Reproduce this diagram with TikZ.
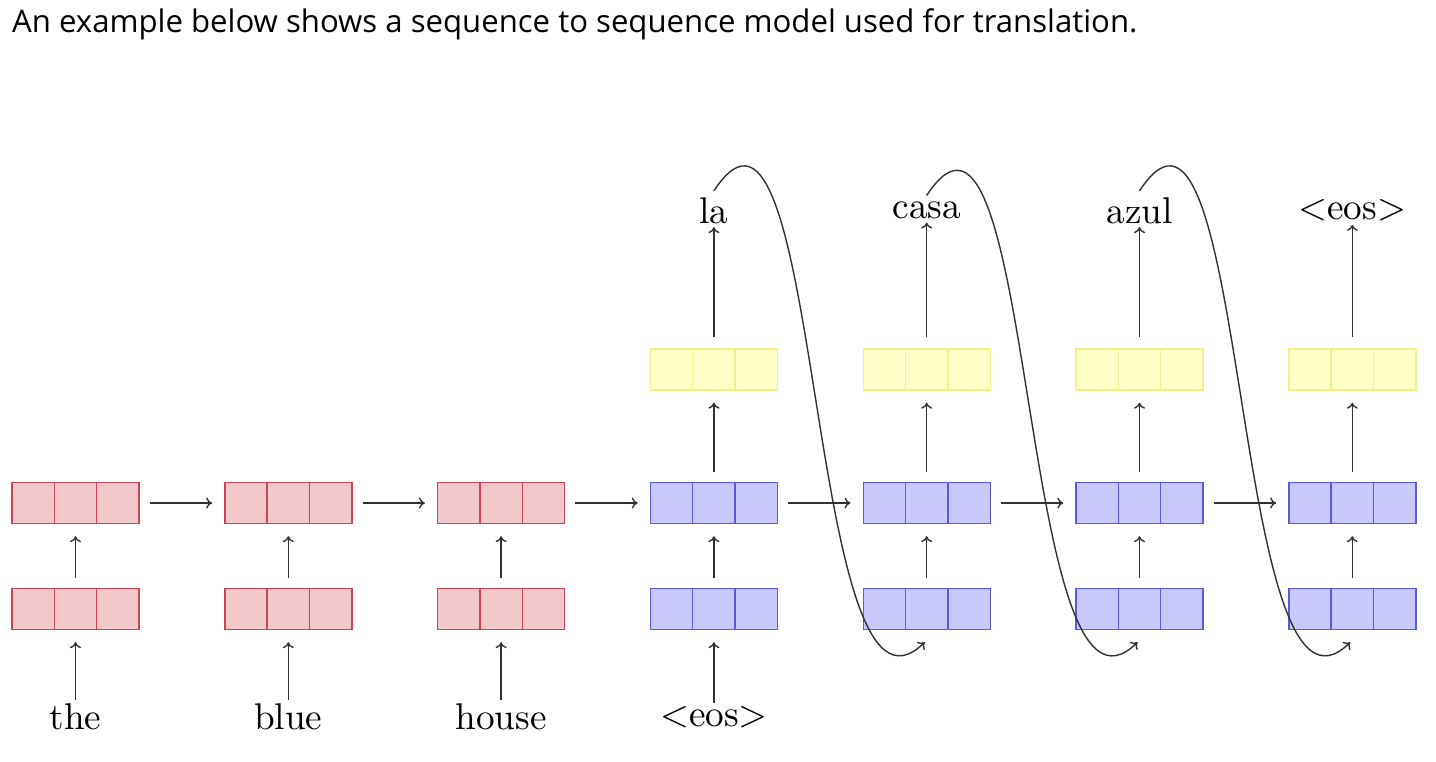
\documentclass[tikz,border=0pt]{standalone}
\usepackage{fontspec}
\newfontfamily\titlefont{Open Sans}
\newfontfamily\cmten{lmroman10-regular}[Extension=.otf]
\usetikzlibrary{calc,arrows.meta}
\definecolor{rfill}{RGB}{242,200,202}
\definecolor{rline}{RGB}{200,70,85}
\definecolor{bfill}{RGB}{200,200,250}
\definecolor{bline}{RGB}{90,90,225}
\definecolor{yfill}{RGB}{255,255,200}
\definecolor{yline}{RGB}{245,240,140}
\definecolor{arrcol}{RGB}{50,50,50}
\tikzset{
  cellbox/.style={rectangle, minimum width=127pt, minimum height=41pt, inner sep=0pt, line width=1.4pt,
    path picture={
      \draw[line width=1.4pt,#1]
        ($(path picture bounding box.south west)!1/3!(path picture bounding box.south east)$) --
        ($(path picture bounding box.north west)!1/3!(path picture bounding box.north east)$)
        ($(path picture bounding box.south west)!2/3!(path picture bounding box.south east)$) --
        ($(path picture bounding box.north west)!2/3!(path picture bounding box.north east)$);
    }},
  encbox/.style={cellbox=rline, draw=rline, fill=rfill},
  decbox/.style={cellbox=bline, draw=bline, fill=bfill},
  outbox/.style={cellbox=yline, draw=yline, fill=yfill},
  lbl/.style={font=\cmten\fontsize{37.2}{45}\selectfont},
  arr/.style={-{To[length=6pt,width=11pt]}, line width=1.4pt, draw=arrcol},
}
\begin{document}
\begin{tikzpicture}[x=1pt,y=-1pt]
\useasboundingbox (0,0) rectangle (1436,762);
\node[anchor=base west, inner sep=0pt] (title) at (12,33)
  {\resizebox{1125pt}{!}{\titlefont An example below shows a sequence to sequence model used for translation.}};
% encoder
\foreach \i in {1,2,3}{
  \node[encbox] (x\i) at ({75.5+212.8*(\i-1)},609) {};
  \node[encbox] (h\i) at ({75.5+212.8*(\i-1)},503) {};
}
% decoder
\foreach \i in {4,...,7}{
  \node[decbox] (x\i) at ({75.5+212.8*(\i-1)},609) {};
  \node[decbox] (h\i) at ({75.5+212.8*(\i-1)},503) {};
  \node[outbox] (o\i) at ({75.5+212.8*(\i-1)},369.5) {};
}
% input labels
\node[lbl] (in1) at ($(x1)+(0,108)$) {the};
\node[lbl] (in2) at ($(x2)+(0,108)$) {blue};
\node[lbl] (in3) at ($(x3)+(0,108)$) {house};
\node[lbl] (in4) at ($(x4)+(0,108)$) {<eos>};
% output labels
\node[lbl] (out4) at ($(o4)+(0,-159)$) {la};
\node[lbl] (out5) at ($(o5)+(0,-159)$) {casa};
\node[lbl] (out6) at ($(o6)+(0,-159)$) {azul};
\node[lbl] (out7) at ($(o7)+(0,-159)$) {<eos>};
% input arrows and vertical arrows
\foreach \i in {1,...,4}{
  \draw[arr, shorten >=12pt] (in\i.north) -- (x\i.south);
}
\foreach \i in {1,...,7}{
  \draw[arr, shorten <=10pt, shorten >=12pt] (x\i.north) -- (h\i.south);
}
\foreach \i/\j in {1/2,2/3,3/4,4/5,5/6,6/7}{
  \draw[arr, shorten <=10pt, shorten >=12pt] (h\i.east) -- (h\j.west);
}
\foreach \i in {4,...,7}{
  \draw[arr, shorten <=10pt, shorten >=12pt] (h\i.north) -- (o\i.south);
  \draw[arr, shorten <=11pt] (o\i.north) -- (out\i.south);
}
% feedback curves
\foreach \i/\j in {4/5,5/6,6/7}{
  \coordinate (e\j) at ($(x\j.south)+(-2,12)$);
  \draw[arr] ($(out\i.north)+(0,-3)$) .. controls +(110,-168) and +(-120,118) .. (e\j);
}
\end{tikzpicture}
\end{document}
